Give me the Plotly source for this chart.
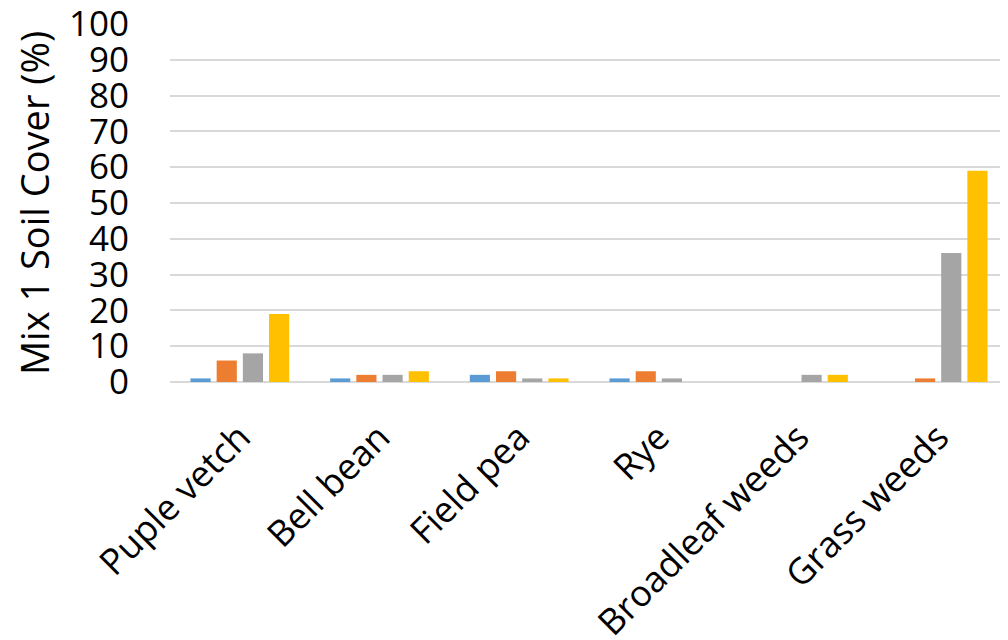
import plotly.graph_objects as go

categories = ["Puple vetch", "Bell bean", "Field pea", "Rye", "Broadleaf weeds", "Grass weeds"]
series1 = [1, 1, 2, 1, 0, 0]
series2 = [6, 2, 3, 3, 0, 1]
series3 = [8, 2, 1, 1, 2, 36]
series4 = [19, 3, 1, 0, 2, 59]
series_names = ["Series 1", "Series 2", "Series 3", "Series 4"]
colors = ["#5B9BD5", "#ED7D31", "#A5A5A5", "#FFC000"]
y_ticks = list(range(0, 101, 10))

fig = go.Figure()
for name, vals, c in zip(series_names, [series1, series2, series3, series4], colors):
    fig.add_trace(go.Bar(x=categories, y=vals, name=name, marker=dict(color=c, line=dict(width=0))))

font_family = "Open Sans, sans-serif"
fig.update_layout(
    width=1000, height=632,
    margin=dict(l=162, r=0, t=16, b=258),
    plot_bgcolor="white", paper_bgcolor="white",
    barmode="group", bargap=0.25, bargroupgap=0.23,
    showlegend=False,
    font=dict(family=font_family, color="black", size=34),
)
fig.update_yaxes(
    range=[0, 100], tickvals=y_ticks, automargin=False,
    showgrid=True, gridcolor="#D9D9D9", gridwidth=1.5,
    zeroline=True, zerolinecolor="#D9D9D9", zerolinewidth=1.5,
    showline=False, ticklabelstandoff=40, ticklabeloverflow="allow",
    tickfont=dict(size=35, family=font_family),
    title=dict(text="Mix 1 Soil Cover (%)", font=dict(size=38, family=font_family), standoff=30),
)
fig.update_xaxes(
    showgrid=False, showline=False, tickangle=-45, automargin=False,
    ticklabelstandoff=26, ticklabeloverflow="allow",
    tickfont=dict(size=36, family=font_family),
)
fig.write_html("out.html")
